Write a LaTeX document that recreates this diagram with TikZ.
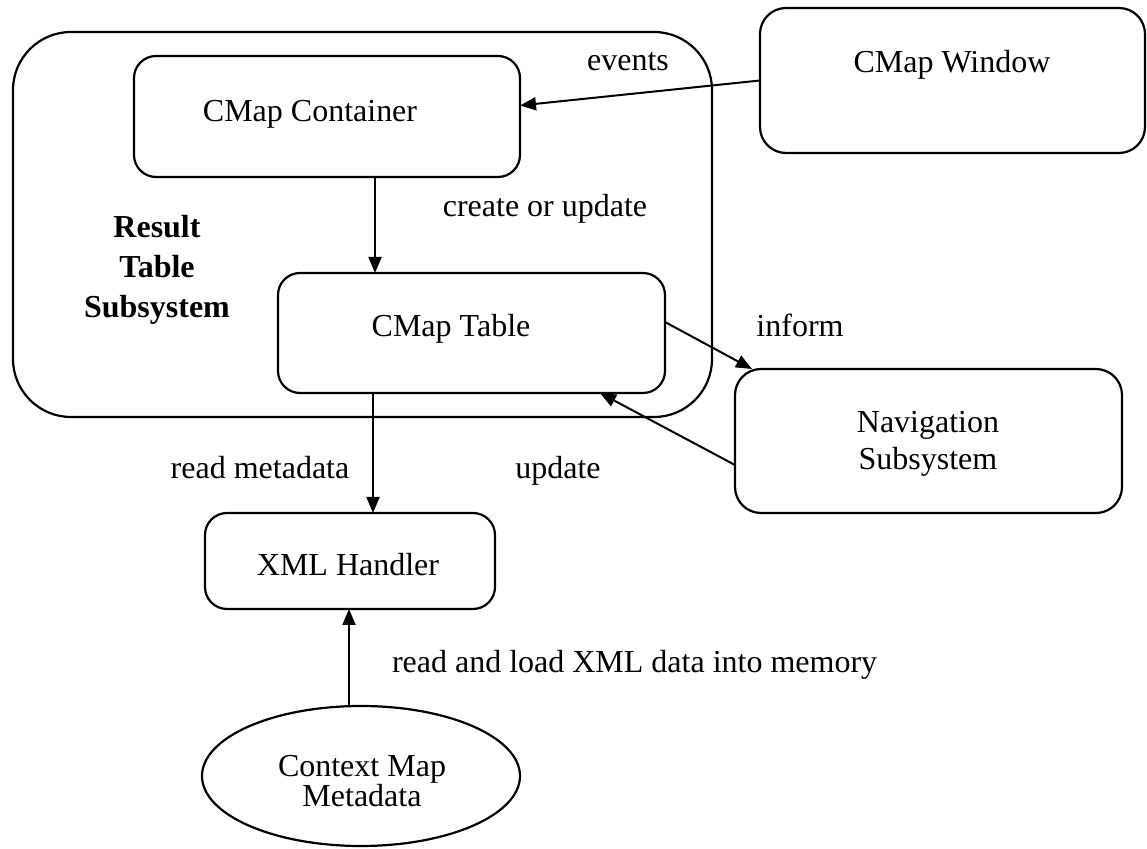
\documentclass[tikz,border=0pt]{standalone}
\usepackage{fontspec}
\setmainfont{Liberation Serif}
\usetikzlibrary{shapes.geometric,arrows.meta,calc,fit}
\begin{document}
\begin{tikzpicture}[x=0.5pt,y=-0.5pt,
  every node/.style={font=\fontsize{16}{18}\selectfont, inner sep=0pt, outer sep=0pt},
  box/.style={draw, line width=1.1pt, rounded corners=11pt, inner sep=0pt},
  bigbox/.style={box, rounded corners=13pt},
  lbl/.style={anchor=base},
  arr/.style={line width=1pt, -{Triangle[length=8pt,width=6.5pt]}}]
\useasboundingbox[fill=white] (0,0) rectangle (1147,849);
% boxes
\node[box, rounded corners=29pt, fit={(13,32) (712,417)}] (rts) {};
\node[box, fit={(134,56) (520,177)}] (cont) {};
\node[box, fit={(278,273) (665,393)}] (tab) {};
\node[bigbox, fit={(760,8) (1145,153)}] (win) {};
\node[bigbox, fit={(735,369) (1122,513)}] (nav) {};
\node[box, fit={(205,513) (495,609)}] (xml) {};
\node[draw, line width=1.1pt, ellipse, minimum width=159pt, minimum height=70pt] (meta) at (361,776) {};
% box texts
\node[lbl] (contt) at (310,122) {CMap Container};
\node[lbl] (tabt) at (451,337) {CMap Table};
\node[lbl] (wint) at (952,73) {CMap Window};
\node[lbl] (xmlt) at (348,576) {XML Handler};
\node[align=center, font=\fontsize{16}{18.5}\selectfont] (navt) at (928,444) {Navigation\\Subsystem};
\node[align=center, font=\fontsize{16}{15}\selectfont] (metat) at (362,781) {Context Map\\Metadata};
\node[align=center, font=\bfseries\fontsize{16}{20}\selectfont] (rtst) at (157,270) {Result\\Table\\Subsystem};
% connector labels
\node[lbl] (evl) at (628,71) {events};
\node[lbl] (cul) at (545,217) {create or update};
\node[lbl] (inl) at (800,337) {inform};
\node[lbl] (rml) at (260,479) {read metadata};
\node[lbl] (upl) at (558,479) {update};
\node[lbl, anchor=base west] (rll) at (392,673) {read and load XML data into memory};
% connectors
\draw[arr] (win.west) -- ($(cont.east)+(0,-11)$);
\draw[arr] ($(cont.south)+(48,0)$) -- ($(tab.north)+(-96.5,0)$);
\draw[arr] ($(tab.east)+(0,-11)$) -- ($(nav.north west)+(17,0)$);
\draw[arr] ($(nav.west)+(0,24)$) -- ($(tab.south)+(128.5,0)$);
\draw[arr] ($(tab.south)+(-98.5,0)$) -- ($(xml.north)+(23,0)$);
\draw[arr] ($(meta.north)+(-12,0)$) -- ($(xml.south)+(-1,0)$);
\end{tikzpicture}
\end{document}
